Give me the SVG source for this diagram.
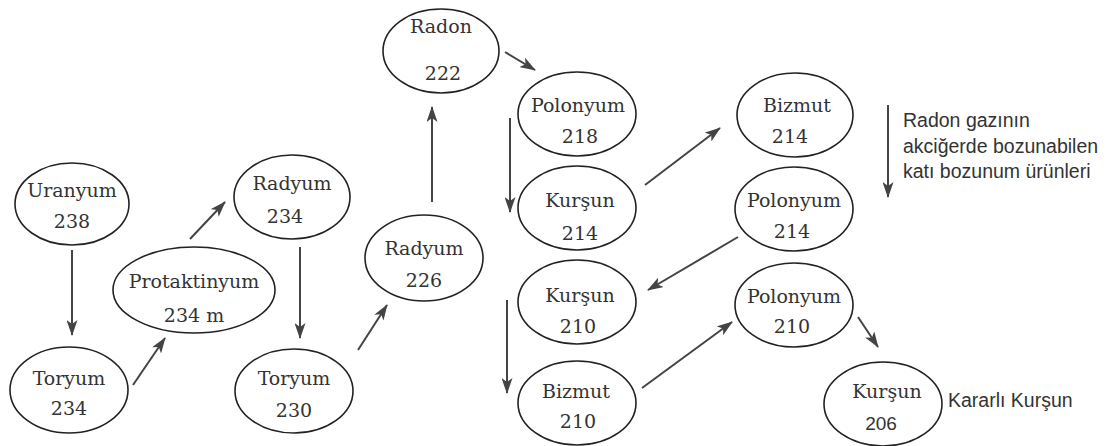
<svg xmlns="http://www.w3.org/2000/svg" width="1109" height="446" viewBox="0 0 1109 446">
<defs>
<marker id="ah" viewBox="0 0 16 11" refX="15" refY="5.5" markerWidth="16" markerHeight="11" markerUnits="userSpaceOnUse" orient="auto">
<path d="M0,0 L16,5.5 L0,11 L4,5.5 Z" fill="#444"/>
</marker>
</defs>
<style>
.n ellipse{fill:#fff;stroke:#222;stroke-width:1.6}
.n text{font-family:"DejaVu Serif","Liberation Serif",serif;font-size:19px;fill:#333;text-anchor:middle}
.c line{stroke:#444;stroke-width:2;marker-end:url(#ah)}
.s{font-family:"Liberation Sans",Arial,sans-serif;fill:#333}
</style>
<rect width="1109" height="446" fill="#fff"/>
<g class="c">
<line x1="72" y1="250" x2="72" y2="335"/>
<line x1="133" y1="385" x2="165" y2="338"/>
<line x1="190" y1="239" x2="225" y2="202"/>
<line x1="300" y1="247" x2="300" y2="338"/>
<line x1="358" y1="350" x2="387" y2="305"/>
<line x1="432" y1="202" x2="432" y2="107"/>
<line x1="505" y1="52" x2="535" y2="70"/>
<line x1="510" y1="118" x2="510" y2="212"/>
<line x1="645" y1="185" x2="720" y2="128"/>
<line x1="738" y1="237" x2="648" y2="290"/>
<line x1="507" y1="300" x2="507" y2="393"/>
<line x1="642" y1="388" x2="732" y2="322"/>
<line x1="858" y1="317" x2="878" y2="347"/>
<line x1="888" y1="105" x2="888" y2="197"/>
</g>
<g id="uranyum238" class="n"><ellipse cx="72" cy="204" rx="57" ry="41"/><text x="72" y="197">Uranyum</text><text x="72" y="228">238</text></g>
<g id="toryum234" class="n"><ellipse cx="69" cy="390" rx="59" ry="43"/><text x="69" y="385">Toryum</text><text x="69" y="415">234</text></g>
<g id="protaktinyum" class="n"><ellipse cx="194" cy="290" rx="81" ry="43"/><text x="194" y="288">Protaktinyum</text><text x="194" y="322">234 m</text></g>
<g id="radyum234" class="n"><ellipse cx="292" cy="197" rx="58" ry="42"/><text x="292" y="190">Radyum</text><text x="285" y="223">234</text></g>
<g id="toryum230" class="n"><ellipse cx="294" cy="391" rx="59" ry="42"/><text x="294" y="385">Toryum</text><text x="294" y="417">230</text></g>
<g id="radyum226" class="n"><ellipse cx="424" cy="258" rx="59" ry="43"/><text x="424" y="255">Radyum</text><text x="424" y="287">226</text></g>
<g id="radon222" class="n"><ellipse cx="441" cy="51" rx="58" ry="42"/><text x="441" y="33">Radon</text><text x="443" y="80">222</text></g>
<g id="polonyum218" class="n"><ellipse cx="577" cy="114" rx="59" ry="42"/><text x="578" y="112">Polonyum</text><text x="580" y="143">218</text></g>
<g id="kursun214" class="n"><ellipse cx="577" cy="208" rx="59" ry="42"/><text x="580" y="207">Kurşun</text><text x="580" y="240">214</text></g>
<g id="kursun210" class="n"><ellipse cx="577" cy="302" rx="59" ry="42"/><text x="580" y="302">Kurşun</text><text x="578" y="333">210</text></g>
<g id="bizmut210" class="n"><ellipse cx="577" cy="403" rx="59" ry="42"/><text x="576" y="398">Bizmut</text><text x="578" y="428">210</text></g>
<g id="bizmut214" class="n"><ellipse cx="795" cy="115" rx="58" ry="42"/><text x="797" y="112">Bizmut</text><text x="790" y="143">214</text></g>
<g id="polonyum214" class="n"><ellipse cx="794" cy="209" rx="59" ry="42"/><text x="794" y="207">Polonyum</text><text x="792" y="238">214</text></g>
<g id="polonyum210" class="n"><ellipse cx="794" cy="305" rx="59" ry="42"/><text x="794" y="303">Polonyum</text><text x="792" y="333">210</text></g>
<g id="kursun206" class="n"><ellipse cx="883" cy="404" rx="59" ry="42"/><text x="887" y="398">Kurşun</text><text x="881" y="430" style="font-family:'Liberation Sans',Arial,sans-serif">206</text></g>
<g id="legend">
<text class="s" x="903" y="127" font-size="19.5">Radon gazının</text>
<text class="s" x="903" y="153" font-size="19.5">akciğerde bozunabilen</text>
<text class="s" x="903" y="178" font-size="19.5">katı bozunum ürünleri</text>
<text class="s" x="948" y="407" font-size="19.5">Kararlı Kurşun</text>
</g>
</svg>
